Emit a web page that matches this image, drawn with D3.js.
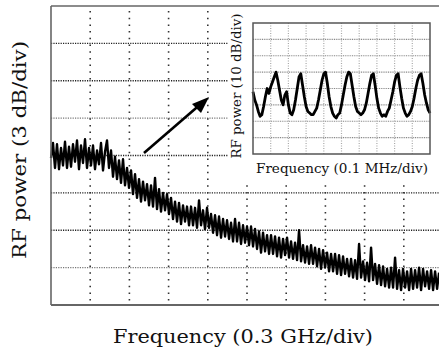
<!DOCTYPE html>
<html><head><meta charset="utf-8">
<script src="https://cdn.jsdelivr.net/npm/d3@7"></script>
<style>html,body{margin:0;padding:0;background:#fff;}svg{display:block;}</style>
</head><body>
<svg id="c" width="439" height="352"></svg>
<script>
// ---- Data ----
// Main trace: RF power (dB, relative) sampled uniformly from 0 to 2.97 GHz
const mainEndGHz = 2.97;
const mainPowerDb = [
11.8,13.0,11.0,12.9,10.9,12.6,11.2,13.1,11.0,12.7,
11.1,12.9,11.5,13.2,10.9,12.8,11.4,13.3,11.0,12.6,
11.2,12.8,10.9,12.4,11.3,13.0,10.8,12.3,13.2,11.0,
12.4,10.3,11.9,10.1,11.6,9.8,11.7,9.6,11.0,9.4,
10.8,8.9,10.5,8.6,10.1,8.3,9.9,8.4,9.7,8.0,
9.6,7.9,10.2,7.7,9.3,7.5,9.0,7.6,8.9,7.3,
8.6,6.9,8.3,6.7,8.2,6.5,8.0,6.7,7.9,6.4,
7.9,6.4,7.8,6.2,8.4,6.4,7.6,6.1,7.8,6.2,
7.3,5.8,7.2,5.6,7.1,5.4,6.9,5.5,6.8,5.3,
6.6,5.1,6.9,5.1,6.6,4.9,6.4,5.0,6.3,4.8,
6.3,4.7,6.1,4.5,5.9,4.2,5.8,4.3,5.6,4.1,
5.6,4.1,5.5,3.9,5.4,3.8,5.3,4.0,5.4,3.8,
5.1,3.7,5.0,3.6,6.0,3.5,4.8,3.4,4.7,3.3,
4.8,3.3,4.6,3.1,4.5,2.9,4.4,3.0,4.2,2.7,
4.1,2.7,4.1,2.5,4.0,2.4,3.9,2.5,3.7,2.3,
3.7,2.2,3.6,2.1,4.9,2.2,3.5,2.0,3.4,1.9,
4.6,2.0,3.3,1.7,3.2,1.6,3.1,1.5,2.9,1.4,
3.0,1.4,3.8,1.3,2.8,1.2,2.9,1.4,2.7,1.2,
2.9,1.3,2.8,1.4,3.0,1.2,2.9,1.5,2.7,1.3,
2.8,1.2,2.7,1.3,2.6
];
const mainXTicks = [0.3,0.6,0.9,1.2,1.5,1.8,2.1,2.4,2.7];
const mainYTicks = [3,6,9,12,15,18,21];

// Inset trace: frequency (MHz) and RF power (dB)
const insetFreqMHz = [
0.00,0.01,0.02,0.03,0.04,0.05,0.06,0.07,0.08,0.09,
0.10,0.11,0.12,0.13,0.14,0.15,0.16,0.17,0.18,0.19,
0.20,0.21,0.22,0.23,0.24,0.25,0.26,0.27,0.28,0.29,
0.30,0.31,0.32,0.33,0.34,0.35,0.36,0.37,0.38,0.39,
0.40,0.41,0.42,0.43,0.44,0.45,0.46,0.47,0.48,0.49,
0.50,0.51,0.52,0.53,0.54,0.55,0.56,0.57,0.58,0.59,
0.60,0.61,0.62,0.63,0.64,0.65,0.66,0.67,0.68,0.69,
0.70,0.71,0.72,0.73,0.74,0.75,0.76,0.77,0.78,0.79,
0.80,0.81,0.82,0.83,0.84,0.85,0.86,0.87,0.88,0.89,
0.90,0.91,0.92,0.93,0.94,0.95,0.96,0.97,0.98,0.99,1.00
];
const insetPowerDb = [
38,33,30,26,23,24,29,35,40,37,
41,44,47,50,45,39,33,30,36,38,
30,25,24,27,33,40,47,49,42,35,
29,26,25,24,24,26,28,33,39,45,
49,50,43,35,29,25,23,22,24,25,
30,36,42,47,50,49,42,35,29,26,
25,24,25,27,31,37,43,48,49,42,
34,28,25,23,24,23,26,28,33,38,
44,48,49,41,34,28,25,23,24,26,
29,34,40,45,48,49,43,36,31,27,25
];
const insetXTicks = [0.1,0.2,0.3,0.4,0.5,0.6,0.7,0.8,0.9];
const insetYTicks = [10,20,30,40,50,60,70];

// ---- Drawing ----
const svg = d3.select("#c");
const defs = svg.append("defs");
defs.append("filter").attr("id","soft").attr("x","-5%").attr("y","-20%").attr("width","110%").attr("height","140%")
  .append("feGaussianBlur").attr("stdDeviation",0.6);

const x = d3.scaleLinear().domain([0,3.0]).range([51,443]);
const y = d3.scaleLinear().domain([0,24]).range([305,6]);

// gridlines
const g = svg.append("g");
g.selectAll(".hg").data(mainYTicks).join("line")
  .attr("x1",x(0)).attr("x2",439).attr("y1",d=>y(d)).attr("y2",d=>y(d))
  .attr("stroke",(d,i)=> (d===15||d===3) ? "#777" : "#222")
  .attr("stroke-width",1.3).attr("stroke-dasharray","1.2,1.2");
g.selectAll(".vg").data(mainXTicks).join("line")
  .attr("x1",d=>x(d)).attr("x2",d=>x(d)).attr("y1",y(24)+5).attr("y2",y(0))
  .attr("stroke","#333").attr("stroke-width",1.6).attr("stroke-dasharray","1.5,5.2");

// main trace
const line = d3.line()
  .x((d,i)=>x(i*mainEndGHz/(mainPowerDb.length-1)))
  .y(d=>y(d));
svg.append("path").datum(mainPowerDb).attr("d",line)
  .attr("fill","none").attr("stroke","#000").attr("stroke-width",2.4)
  .attr("stroke-linejoin","round").attr("filter","url(#soft)");

// frame
svg.append("line").attr("x1",x(0)).attr("x2",x(0)).attr("y1",y(24)).attr("y2",y(0))
  .attr("stroke","#666").attr("stroke-width",1.6);
svg.append("line").attr("x1",x(0)).attr("x2",439).attr("y1",y(24)).attr("y2",y(24))
  .attr("stroke","#666").attr("stroke-width",1.6);
svg.append("line").attr("x1",x(0)).attr("x2",439).attr("y1",y(0)).attr("y2",y(0))
  .attr("stroke","#666").attr("stroke-width",2);

// arrow
svg.append("line").attr("x1",144).attr("y1",153).attr("x2",199).attr("y2",105.5)
  .attr("stroke","#000").attr("stroke-width",2.6);
svg.append("path").attr("d","M209,97 L192,104 L201,113 Z").attr("fill","#000");

// inset
const inset = svg.append("g");
inset.append("rect").attr("x",228).attr("y",7.5).attr("width",211).attr("height",175).attr("fill","#fff");
const ix = d3.scaleLinear().domain([0,1]).range([253,430]);
const iy = d3.scaleLinear().domain([0,80]).range([154,23]);
inset.selectAll(".ihg").data(insetYTicks).join("line")
  .attr("x1",ix(0)).attr("x2",ix(1)).attr("y1",d=>iy(d)).attr("y2",d=>iy(d))
  .attr("stroke","#888").attr("stroke-width",1.2).attr("stroke-dasharray","1,0.8");
inset.selectAll(".ivg").data(insetXTicks).join("line")
  .attr("x1",d=>ix(d)).attr("x2",d=>ix(d)).attr("y1",iy(80)).attr("y2",iy(0))
  .attr("stroke","#aaa").attr("stroke-width",1.2).attr("stroke-dasharray","1,1.5");
const iline = d3.line().x((d,i)=>ix(insetFreqMHz[i])).y(d=>iy(d));
inset.append("path").datum(insetPowerDb).attr("d",iline)
  .attr("fill","none").attr("stroke","#000").attr("stroke-width",2.8)
  .attr("stroke-linejoin","round").attr("filter","url(#soft)");
inset.append("rect").attr("x",ix(0)).attr("y",iy(80)).attr("width",ix(1)-ix(0)).attr("height",iy(0)-iy(80))
  .attr("fill","none").attr("stroke","#555").attr("stroke-width",1.5);

inset.append("text").attr("x",342).attr("y",173).attr("text-anchor","middle")
  .attr("font-family","DejaVu Serif").attr("font-size",13).attr("fill","#111")
  .attr("textLength",172).attr("lengthAdjust","spacingAndGlyphs")
  .text("Frequency (0.1 MHz/div)");
inset.append("text").attr("transform","translate(241,86) rotate(-90)").attr("text-anchor","middle")
  .attr("font-family","DejaVu Serif").attr("font-size",13).attr("fill","#111")
  .attr("textLength",145).attr("lengthAdjust","spacingAndGlyphs")
  .text("RF power (10 dB/div)");

// main labels
svg.append("text").attr("x",243).attr("y",343).attr("text-anchor","middle")
  .attr("font-family","DejaVu Serif").attr("font-size",19).attr("fill","#111")
  .attr("textLength",260).attr("lengthAdjust","spacingAndGlyphs")
  .text("Frequency (0.3 GHz/div)");
svg.append("text").attr("transform","translate(26,150) rotate(-90)").attr("text-anchor","middle")
  .attr("font-family","DejaVu Serif").attr("font-size",19).attr("fill","#111")
  .attr("textLength",218).attr("lengthAdjust","spacingAndGlyphs")
  .text("RF power (3 dB/div)");
</script>
</body></html>
